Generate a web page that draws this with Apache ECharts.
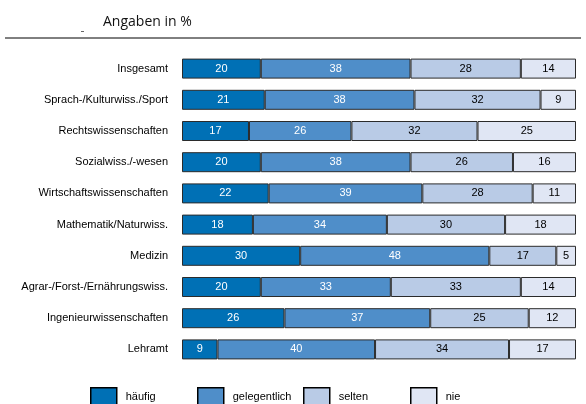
<!DOCTYPE html>
<html>
<head>
<meta charset="utf-8">
<script src="https://cdn.jsdelivr.net/npm/echarts@6/dist/echarts.min.js"></script>
<style>
  html, body { margin: 0; padding: 0; background: #fff; }
  #chart { width: 586px; height: 404px; }
</style>
</head>
<body>
<div id="chart"></div>
<script>
const categories = [
  'Insgesamt',
  'Sprach-/Kulturwiss./Sport',
  'Rechtswissenschaften',
  'Sozialwiss./-wesen',
  'Wirtschaftswissenschaften',
  'Mathematik/Naturwiss.',
  'Medizin',
  'Agrar-/Forst-/Ernährungswiss.',
  'Ingenieurwissenschaften',
  'Lehramt'
]
const seriesNames = ['häufig', 'gelegentlich', 'selten', 'nie']
const haeufig = [20, 21, 17, 20, 22, 18, 30, 20, 26, 9]
const gelegentlich = [38, 38, 26, 38, 39, 34, 48, 33, 37, 40]
const selten = [28, 32, 32, 26, 28, 30, 17, 33, 25, 34]
const nie = [14, 9, 25, 16, 11, 18, 5, 14, 12, 17]

const chart = echarts.init(document.getElementById('chart'))

// gemeinsame Einstellungen für alle Balken
function makeSeries (name, data, color, labelColor) {
  return {
    name: name,
    type: 'bar',
    stack: 'total',
    barWidth: 20,
    data: data,
    itemStyle: { color: color, borderColor: '#2b2b2b', borderWidth: 1 },
    label: {
      show: true,
      position: 'inside',
      color: labelColor,
      fontSize: 11,
      fontFamily: 'Liberation Sans'
    }
  }
}

// jede Legende einzeln platzieren, damit die Abstände wie im Original sind
const legendLefts = [90, 197, 303, 410]
const legends = seriesNames.map((name, i) => ({
  left: legendLefts[i],
  top: 387,
  padding: 0,
  itemWidth: 26,
  itemHeight: 18,
  icon: 'rect',
  itemStyle: { borderColor: '#000', borderWidth: 1.5 },
  textStyle: { fontSize: 11, color: '#000', fontFamily: 'Liberation Sans', padding: [0, 0, 4, 4] },
  data: [name]
}))

const option = {
  animation: false,
  title: {
    text: 'Angaben in %',
    left: 98,
    top: 10,
    textStyle: { fontSize: 14, fontWeight: 'normal', color: '#111', fontFamily: 'Open Sans' }
  },
  graphic: [
    { type: 'line', shape: { x1: 5, y1: 38, x2: 581, y2: 38 }, style: { stroke: '#000', lineWidth: 1 } },
    { type: 'rect', shape: { x: 81, y: 31, width: 3, height: 1 }, style: { fill: '#666' } }
  ],
  legend: legends,
  grid: { left: 182, right: 10, top: 53, height: 312 },
  xAxis: { type: 'value', min: 0, max: 100, show: false },
  yAxis: {
    type: 'category',
    inverse: true,
    data: categories,
    axisLine: { show: false },
    axisTick: { show: false },
    axisLabel: { color: '#000', fontSize: 11, margin: 14, fontFamily: 'Liberation Sans' }
  },
  series: [
    makeSeries(seriesNames[0], haeufig, '#0070b5', '#fff'),
    makeSeries(seriesNames[1], gelegentlich, '#4f8ec9', '#fff'),
    makeSeries(seriesNames[2], selten, '#b9cbe6', '#000'),
    makeSeries(seriesNames[3], nie, '#e0e6f4', '#000')
  ]
}

chart.setOption(option)
</script>
</body>
</html>
